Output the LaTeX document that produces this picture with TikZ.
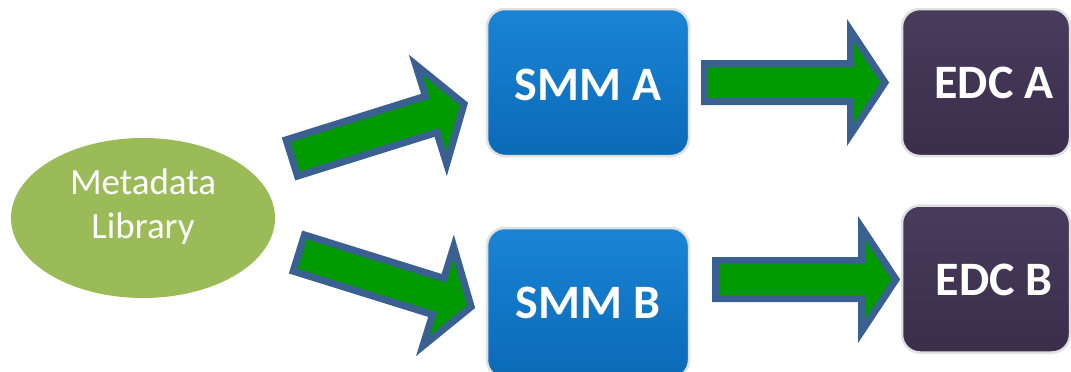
\documentclass[tikz,border=0pt]{standalone}
\usepackage{fontspec}
\setmainfont{Carlito}
\usetikzlibrary{shapes.geometric}
\definecolor{metagreen}{HTML}{9BBB59}
\definecolor{arrgreen}{HTML}{009900}
\definecolor{arrblue}{HTML}{3A5F91}
\definecolor{smmtop}{HTML}{1A84D4}
\definecolor{smmbot}{HTML}{0A6AB8}
\definecolor{edctop}{HTML}{483B5C}
\definecolor{edcbot}{HTML}{3B2E4B}
\tikzset{
  metabox/.style={ellipse, fill=metagreen, minimum width=264pt, minimum height=160pt, inner sep=0pt},
  metatext/.style={text=white, font=\fontsize{37}{44}\selectfont, inner sep=0pt},
  smmbox/.style={rectangle, rounded corners=18pt, top color=smmtop, bottom color=smmbot,
    draw=black!12, line width=2.5pt, minimum width=202pt, minimum height=147pt, inner sep=0pt},
  edcbox/.style={rectangle, rounded corners=18pt, top color=edctop, bottom color=edcbot,
    draw=black!12, line width=2.5pt, minimum width=168pt, minimum height=147pt, inner sep=0pt},
  boxtext/.style={text=white, font=\fontsize{48}{54}\selectfont\bfseries, inner sep=0pt},
  blockarrow/.style={fill=arrgreen, draw=arrblue, line width=7pt, line join=miter, miter limit=10},
}
\newcommand{\blockarrowpath}{(3.5,-19) -- (149.5,-19) -- (149.5,-52) -- (184,0) -- (149.5,52) -- (149.5,19) -- (3.5,19) -- cycle}
\begin{document}
\begin{tikzpicture}[x=1pt,y=-1pt]
\useasboundingbox (0,0) rectangle (1071,372);
% nodes
\node[metabox] (meta) at (143,218) {};
\node[metatext, anchor=base] (metat1) at (143,194) {Metadata};
\node[metatext, anchor=base] (metat2) at (143,238) {Library};

\node[smmbox] (smmA) at (588,82.5) {};
\node[boxtext, anchor=base] (smmAt) at (588,100) {SMM A};
\node[smmbox, minimum height=150pt] (smmB) at (588,303) {};
\node[boxtext, anchor=base] (smmBt) at (588,318) {SMM B};

\node[edcbox] (edcA) at (986,82.5) {};
\node[boxtext, anchor=base] (edcAt) at (994,98) {EDC A};
\node[edcbox] (edcB) at (986,279) {};
\node[boxtext, anchor=base] (edcBt) at (994,295) {EDC B};

% block arrows
\begin{scope}[shift={(288.5,159)}, rotate=17.4]
  \draw[blockarrow] \blockarrowpath;
\end{scope}
\begin{scope}[shift={(295.5,252)}, rotate=-17.3]
  \draw[blockarrow] \blockarrowpath;
\end{scope}
\begin{scope}[shift={(701,82.5)}]
  \draw[blockarrow] \blockarrowpath;
\end{scope}
\begin{scope}[shift={(712,279.5)}]
  \draw[blockarrow] \blockarrowpath;
\end{scope}
\end{tikzpicture}
\end{document}
